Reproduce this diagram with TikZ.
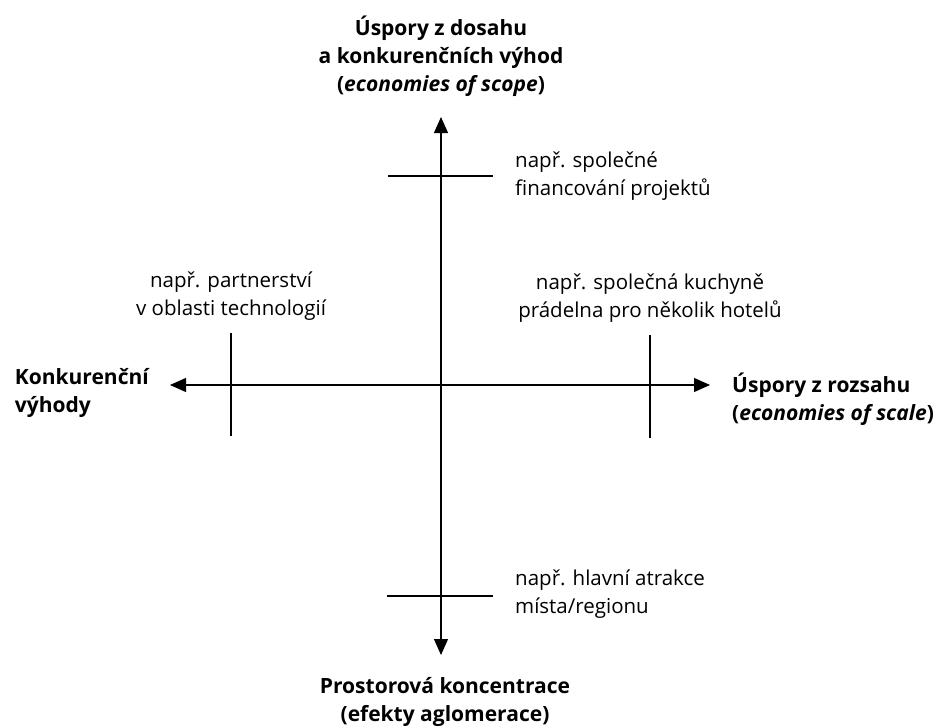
\documentclass[tikz,border=0pt]{standalone}
\usepackage{fontspec}
\setmainfont{Open Sans}
\usepackage{tikz}
\usetikzlibrary{
  arrows.meta,
  positioning,
  calc
}
\tikzset{
  axis/.style={{Triangle[length=16pt,width=14pt]}-{Triangle[length=16pt,width=14pt]}, line width=1.2pt, black},
  marker/.style={line width=1.2pt, black},
  axislabel/.style={font=\fontsize{21}{28}\selectfont\bfseries, inner sep=0pt},
  note/.style={font=\fontsize{20.5}{28}\selectfont, inner sep=0pt}
}

\begin{document}
\begin{tikzpicture}[x=1pt, y=-1pt, node distance=14pt]
  \useasboundingbox (0,0) rectangle (942,726);
  % axis ends
  \coordinate (top) at (441,117);
  \coordinate (bot) at (441,655);
  \coordinate (lft) at (170,385);
  \coordinate (rgt) at (710,385);
  % markers on the axes
  \coordinate (ts1) at (388,176);  \coordinate (ts2) at (493,176);
  \coordinate (bs1) at (387,596);  \coordinate (bs2) at (493,596);
  \coordinate (ls1) at (231,333);  \coordinate (ls2) at (231,436);
  \coordinate (rs1) at (650,335);  \coordinate (rs2) at (650,438);

  \draw[axis] (bot) -- (top);
  \draw[axis] (lft) -- (rgt);
  \draw[marker] (ts1) -- (ts2);
  \draw[marker] (bs1) -- (bs2);
  \draw[marker] (ls1) -- (ls2);
  \draw[marker] (rs1) -- (rs2);

  \node[axislabel, align=center, above=20pt of top] (scope) {Úspory z dosahu\\a konkurenčních výhod\\(\textit{economies of scope})};
  \node[axislabel, align=center, below=22pt of bot, xshift=4pt] (aglo) {Prostorová koncentrace\\(efekty aglomerace)};
  \node[axislabel, align=left, left=21pt of lft, yshift=-8pt] (comp) {Konkurenční\\výhody};
  \node[axislabel, align=left, right=22pt of rgt, yshift=-14pt] (scale) {Úspory z rozsahu\\(\textit{economies of scale})};

  \node[note, align=left, right=22pt of ts2] (fin) {např. společné\\financování projektů};
  \node[note, align=left, right=22pt of bs2, yshift=2pt] (atr) {např. hlavní atrakce\\místa/regionu};
  \node[note, align=center, above=12pt of ls1] (tech) {např. partnerství\\v oblasti technologií};
  \node[note, align=center, above=12pt of rs1] (hotel) {např. společná kuchyně\\prádelna pro několik hotelů};
\end{tikzpicture}
\end{document}
